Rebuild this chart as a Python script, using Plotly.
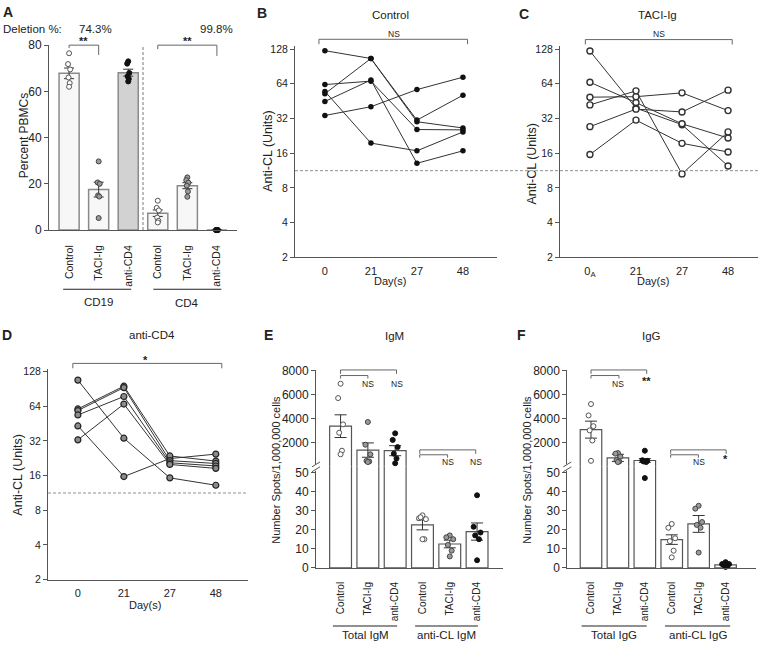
import math
import plotly.graph_objects as go

W, H = 758, 646
FONT = "Liberation Sans, Arial, Helvetica, sans-serif"
INK = "#222222"
AXC = "#555555"

# ------------------------------------------------------------------ data
# Panel A: percent PBMCs
a_cats = ["Control", "TACI-Ig", "anti-CD4", "Control", "TACI-Ig", "anti-CD4"]
a_groups = ["CD19", "CD4"]
a_means = [67.8, 17.5, 68.1, 7.3, 19.2, 0.0]
a_sem = [2.3, 3.2, 1.5, 1.4, 1.3, 0.0]
a_pts = [
    [76.5, 71.8, 69.5, 66.0, 63.6, 62.0],
    [29.7, 20.6, 20.0, 15.0, 14.5, 5.2],
    [73.0, 72.0, 68.0, 66.5, 65.4, 64.3],
    [12.7, 9.6, 8.5, 5.4, 4.0, 3.3],
    [22.8, 21.6, 20.5, 19.2, 16.7, 14.4],
    [0.0, 0.0, 0.0, 0.0, 0.0, 0.0],
]
a_deletion = ["74.3%", "99.8%"]

# Panels B-D: anti-CL units over time (one list per animal)
days = ["0", "21", "27", "48"]
c_days = ["0<sub>A</sub>", "21", "27", "48"]
b_series = [
    [124, 106, 31, 51],
    [52.5, 106, 30, 26.5],
    [63, 67.5, 25.7, 25.5],
    [45, 69, 13.1, 16.8],
    [34, 40.5, 57, 73],
    [55, 19.6, 16.8, 24.5],
]
c_series = [
    [123, 39.4, 28.3, 12.4],
    [66, 44, 28.8, 21.7],
    [49, 49.5, 53.4, 37.5],
    [42, 55.6, 10.6, 24.5],
    [27.2, 38.6, 36.5, 56.4],
    [15.6, 31, 19.5, 16.4],
]
d_series = [
    [108, 33.8, 15.3, 13.2],
    [43.2, 15.7, 22.5, 24.6],
    [60.7, 95.7, 23.7, 21.4],
    [58.8, 93, 21.6, 20.4],
    [53.8, 77.8, 20.7, 19.4],
    [32.7, 66.9, 20.0, 18.5],
]
cutoff = 11.3
log_ticks = [2, 4, 8, 16, 32, 64, 128]

# Panels E/F: ELISPOT
ef_cats = ["Control", "TACI-Ig", "anti-CD4", "Control", "TACI-Ig", "anti-CD4"]
e_groups = ["Total IgM", "anti-CL IgM"]
e_tot_mean = [3350, 1350, 1300]
e_tot_sem = [950, 600, 420]
e_tot_pts = [[6900, 5700, 3500, 2800, 1300, 1000],
             [3700, 1800, 1000, 450, 400, 350],
             [2750, 2200, 1600, 1050, 650, 250]]
e_cl_mean = [22.5, 12.5, 19.0]
e_cl_sem = [2.6, 2.0, 4.5]
e_cl_pts = [[27.5, 26.0, 25.5, 26.5, 15.0, 15.0],
            [17.0, 16.0, 15.0, 12.0, 9.0, 6.0],
            [38.0, 21.5, 18.5, 17.0, 15.0, 4.0]]

f_groups = ["Total IgG", "anti-CL IgG"]
f_tot_mean = [3060, 700, 480]
f_tot_sem = [710, 300, 160]
f_tot_pts = [[5200, 4250, 3350, 3000, 2150, 450],
             [1100, 1050, 800, 500, 400, 350],
             [1300, 500, 450, 400, 350, 47]]
f_cl_mean = [14.8, 23.0, 1.6]
f_cl_sem = [2.5, 4.4, 0.4]
f_cl_pts = [[23.0, 21.0, 15.5, 14.0, 9.0, 5.5],
            [32.5, 31.0, 24.0, 22.5, 21.0, 8.0],
            [3.0, 2.0, 2.0, 1.5, 1.0, 0.5]]

# ------------------------------------------------------------------ helpers
def px_x(p):
    return p / W


def px_y(p):
    return 1 - p / H


def dom_x(a, b):
    return [a / W, b / W]


def dom_y(top, bottom):
    return [1 - bottom / H, 1 - top / H]


styles = [
    dict(color="white", size=5, line=dict(color="#555555", width=1)),
    dict(color="#9a9a9a", size=5, line=dict(color="#444444", width=1)),
    dict(color="#111111", size=5, line=dict(color="#111111", width=1)),
]
jit = [0.0, -0.09, 0.09, -0.05, 0.05, 0.0]
DASH = "3px,2px"

fig = go.Figure()
annotations = []
shapes = []


def ann(text, x, y, size=11, bold=False, xanchor="center", yanchor="middle",
        angle=0, xref="paper", yref="paper", color=INK):
    annotations.append(dict(
        text=("<b>%s</b>" % text) if bold else text, x=x, y=y, xref=xref, yref=yref,
        xanchor=xanchor, yanchor=yanchor, textangle=angle, showarrow=False,
        font=dict(family=FONT, size=size, color=color)))


def bracket(xref, x0, x1, ypx, drop0, drop1, color="#666666"):
    shapes.append(dict(
        type="path", xref=xref, yref="paper",
        path="M %g,%g L %g,%g L %g,%g L %g,%g" % (
            x0, px_y(ypx + drop0), x0, px_y(ypx), x1, px_y(ypx), x1, px_y(ypx + drop1)),
        line=dict(color=color, width=1)))


base_axis = dict(showline=True, linecolor=AXC, linewidth=1, showgrid=False,
                 zeroline=False, tickcolor=AXC,
                 tickfont=dict(family=FONT, size=11, color=INK))

lay = {}

# ------------------------------------------------------------------ Panel A
lay["xaxis"] = dict(base_axis, domain=dom_x(49, 237), range=[-0.68, 5.68],
                    tickmode="array", tickvals=list(range(6)), ticktext=a_cats,
                    tickangle=-90, ticks="outside", ticklen=10,
                    tickcolor="rgba(0,0,0,0)", anchor="y",
                    tickfont=dict(family=FONT, size=10.5, color=INK))
lay["yaxis"] = dict(base_axis, domain=dom_y(39, 228), range=[0, 80],
                    tickvals=[0, 20, 40, 60, 80], ticks="outside", ticklen=4,
                    anchor="x", tickfont=dict(family=FONT, size=12, color=INK))

a_fill = ["#f7f7f7", "#f7f7f7", "#d2d2d2", "#f7f7f7", "#f7f7f7", "#f7f7f7"]
fig.add_trace(go.Bar(
    x=list(range(6)), y=a_means, width=0.68, xaxis="x", yaxis="y",
    marker=dict(color=a_fill, line=dict(color="#8a8a8a", width=1.5)),
    error_y=dict(type="data", array=a_sem, color="#333333", thickness=1, width=5),
    showlegend=False))
for i, vals in enumerate(a_pts):
    fig.add_trace(go.Scatter(
        x=[i + 0.4 * j for j in jit[:len(vals)]], y=vals, mode="markers",
        xaxis="x", yaxis="y", marker=styles[i % 3], cliponaxis=False,
        showlegend=False))

shapes.append(dict(type="line", xref="x", yref="y", x0=2.5, x1=2.5, y0=0, y1=80,
                   line=dict(color="#777777", width=1, dash=DASH)))
bracket("x", 0, 1, 39, 3, 10)
bracket("x", 3, 5, 39, 4, 11)
ann("**", 0.5, px_y(35), size=11, bold=True, xref="x")
ann("**", 4, px_y(35), size=11, bold=True, xref="x")
ann("Deletion %:", px_x(1), px_y(22), size=11.5, xanchor="left")
ann(a_deletion[0], 0.9, px_y(22), size=11.5, xref="x")
ann(a_deletion[1], 5.0, px_y(22), size=11.5, xref="x")
shapes.append(dict(type="line", xref="x", yref="paper", x0=-0.2, x1=2.1,
                   y0=px_y(288.5), y1=px_y(288.5), line=dict(color="#222222", width=1.2)))
shapes.append(dict(type="line", xref="x", yref="paper", x0=2.85, x1=5.15,
                   y0=px_y(288.5), y1=px_y(288.5), line=dict(color="#222222", width=1.2)))
ann(a_groups[0], 1.0, px_y(302), size=11.5, xref="x")
ann(a_groups[1], 4.0, px_y(303), size=11.5, xref="x")
ann("Percent PBMCs", px_x(24), px_y(132), size=12, angle=-90)
ann("A", px_x(1), px_y(5), size=14, bold=True, xanchor="left")

# ------------------------------------------------------------------ Panels B, C, D
def log_axis(domain_y, top_px_gap, per_doubling, anchor):
    top = math.log10(128) + (top_px_gap / per_doubling) * math.log10(2)
    return dict(base_axis, type="log", domain=domain_y,
                range=[math.log10(2), top], tickvals=log_ticks,
                ticktext=[str(v) for v in log_ticks], ticks="outside", ticklen=4,
                anchor=anchor, tickfont=dict(family=FONT, size=10.5, color=INK))


def day_axis(domain_x, rng, labels, anchor):
    return dict(base_axis, domain=domain_x, range=rng, tickmode="array",
                tickvals=[0, 1, 2, 3], ticktext=labels, ticks="outside", ticklen=3,
                tickcolor="rgba(0,0,0,0)", anchor=anchor,
                tickfont=dict(family=FONT, size=11, color=INK))


lay["xaxis2"] = day_axis(dom_x(295, 497), [-0.65, 3.74], days, "y2")
lay["yaxis2"] = log_axis(dom_y(40, 256), 3, 35.5, "x2")
lay["xaxis3"] = day_axis(dom_x(560, 758), [-0.65, 3.65], c_days, "y3")
lay["yaxis3"] = log_axis(dom_y(40, 256), 3, 35.5, "x3")
lay["xaxis4"] = day_axis(dom_x(48, 248), [-0.65, 3.70], days, "y4")
lay["yaxis4"] = log_axis(dom_y(370, 585.3), 2.7, 35.4, "x4")

line_sty = dict(color="#333333", width=1)
for s in b_series:
    fig.add_trace(go.Scatter(x=[0, 1, 2, 3], y=s, mode="lines+markers", xaxis="x2",
                             yaxis="y2", line=line_sty, cliponaxis=False,
                             marker=dict(size=5.5, color="#111111"), showlegend=False))
for s in c_series:
    fig.add_trace(go.Scatter(x=[0, 1, 2, 3], y=s, mode="lines+markers", xaxis="x3",
                             yaxis="y3", line=line_sty, cliponaxis=False,
                             marker=dict(size=6, color="white",
                                         line=dict(color="#333333", width=1.4)),
                             showlegend=False))
for s in d_series:
    fig.add_trace(go.Scatter(x=[0, 1, 2, 3], y=s, mode="lines+markers", xaxis="x4",
                             yaxis="y4", line=line_sty, cliponaxis=False,
                             marker=dict(size=6, color="#8c8c8c",
                                         line=dict(color="#222222", width=1.2)),
                             showlegend=False))

shapes.append(dict(type="line", xref="paper", yref="y2", x0=px_x(295), x1=1,
                   y0=cutoff, y1=cutoff, line=dict(color="#8f8f8f", width=1, dash=DASH)))
shapes.append(dict(type="line", xref="paper", yref="y4", x0=px_x(48), x1=px_x(248),
                   y0=cutoff, y1=cutoff, line=dict(color="#8f8f8f", width=1, dash=DASH)))

bracket("x2", -0.13, 3.1, 33, 5, 5)
ann("NS", 1.5, px_y(28), size=8.5, xref="x2")
bracket("x3", -0.1, 3.09, 33.3, 5, 5)
ann("NS", 1.5, px_y(28), size=8.5, xref="x3")
bracket("x4", -0.11, 3.13, 364.3, 5, 5)
ann("*", 1.48, px_y(361), size=11, bold=True, xref="x4")

ann("Control", px_x(390), px_y(8), size=11.5)
ann("TACI-Ig", px_x(657), px_y(8), size=11.5)
ann("anti-CD4", px_x(152), px_y(335), size=11.5)
ann("Anti-CL (Units)", px_x(268), px_y(147), size=12.5, angle=-90)
ann("Anti-CL (Units)", px_x(532), px_y(160), size=12.5, angle=-90)
ann("Anti-CL (Units)", px_x(18), px_y(478), size=12.5, angle=-90)
ann("Day(s)", px_x(390), px_y(280), size=11)
ann("Day(s)", px_x(653), px_y(280), size=11)
ann("Day(s)", px_x(145), px_y(611.5), size=11)
ann("B", px_x(255), px_y(6), size=14, bold=True, xanchor="left")
ann("C", px_x(517), px_y(7), size=14, bold=True, xanchor="left")
ann("D", px_x(0), px_y(335), size=14, bold=True, xanchor="left")


# ------------------------------------------------------------------ Panels E, F
TOP_HI = 8052
BOT_HI = 53.2
BOT_TOP_PX = 469.4


def broken_panel(xa, yb, yt, x_dom, xrng, tot_mean, tot_sem, tot_pts,
                 cl_mean, cl_sem, cl_pts):
    xkey = "xaxis" + xa[1:]
    lay[xkey] = dict(base_axis, domain=x_dom, range=xrng, tickmode="array",
                     tickvals=list(range(6)), ticktext=ef_cats, tickangle=-90,
                     ticks="outside", ticklen=9, tickcolor="rgba(0,0,0,0)",
                     anchor=yb, tickfont=dict(family=FONT, size=10, color=INK))
    lay["yaxis" + yb[1:]] = dict(base_axis, domain=dom_y(BOT_TOP_PX, 573.3),
                                 range=[0, BOT_HI], tickvals=[0, 10, 20, 30, 40, 50],
                                 ticks="outside", ticklen=4, anchor=xa,
                                 tickfont=dict(family=FONT, size=12, color=INK))
    lay["yaxis" + yt[1:]] = dict(base_axis, domain=dom_y(371, BOT_TOP_PX),
                                 range=[0, TOP_HI], tickvals=[2000, 4000, 6000, 8000],
                                 ticks="outside", ticklen=4, anchor=xa,
                                 tickfont=dict(family=FONT, size=12, color=INK))
    bar_line = dict(color="#555555", width=1.2)
    # lower segment: all six bars (totals run off the top of the segment)
    fig.add_trace(go.Bar(x=[0, 1, 2], y=tot_mean, width=0.8, xaxis=xa, yaxis=yb,
                         marker=dict(color="white", line=bar_line), showlegend=False))
    fig.add_trace(go.Bar(x=[3, 4, 5], y=cl_mean, width=0.8, xaxis=xa, yaxis=yb,
                         marker=dict(color="white", line=bar_line),
                         error_y=dict(type="data", array=cl_sem, color="#333333",
                                      thickness=1, width=6),
                         showlegend=False))
    # upper segment: total bars continue from below the break
    lo = -600
    fig.add_trace(go.Bar(x=[0, 1, 2], y=[m - lo for m in tot_mean], base=lo, width=0.8,
                         xaxis=xa, yaxis=yt, marker=dict(color="white", line=bar_line),
                         error_y=dict(type="data", array=tot_sem, color="#333333",
                                      thickness=1, width=6),
                         showlegend=False))
    for i, vals in enumerate(tot_pts):
        hi = [(i + jit[k], v) for k, v in enumerate(vals) if v > BOT_HI]
        lw = [(i + jit[k], v) for k, v in enumerate(vals) if v <= BOT_HI]
        for pts, ya in ((hi, yt), (lw, yb)):
            if pts:
                fig.add_trace(go.Scatter(x=[p[0] for p in pts], y=[p[1] for p in pts],
                                         mode="markers", xaxis=xa, yaxis=ya,
                                         marker=styles[i], cliponaxis=False,
                                         showlegend=False))
    for i, vals in enumerate(cl_pts):
        fig.add_trace(go.Scatter(x=[3 + i + 1.4 * j for j in jit[:len(vals)]], y=vals,
                                 mode="markers", xaxis=xa, yaxis=yb, marker=styles[i],
                                 cliponaxis=False, showlegend=False))


broken_panel("x5", "y5", "y6", dom_x(316, 503), [-0.9, 5.95],
             e_tot_mean, e_tot_sem, e_tot_pts, e_cl_mean, e_cl_sem, e_cl_pts)
broken_panel("x6", "y7", "y8", dom_x(567.3, 756), [-0.88, 6.13],
             f_tot_mean, f_tot_sem, f_tot_pts, f_cl_mean, f_cl_sem, f_cl_pts)

for axx in (316, 567.3):
    shapes.append(dict(type="rect", xref="paper", yref="paper", layer="above",
                       x0=px_x(axx - 4), x1=px_x(axx + 3), y0=px_y(474), y1=px_y(467.5),
                       fillcolor="white", line=dict(width=0)))
    for dy in (0, 5):
        shapes.append(dict(type="line", xref="paper", yref="paper", layer="above",
                           x0=px_x(axx - 4), x1=px_x(axx + 4),
                           y0=px_y(470 + dy), y1=px_y(465 + dy),
                           line=dict(color="#555555", width=1)))

# E significance
bracket("x5", 0, 2.05, 371, 4, 4)
bracket("x5", 0, 1.0, 376.7, 3, 3)
ann("NS", 1.0, px_y(385), size=8.5, xref="x5")
ann("NS", 2.05, px_y(385), size=8.5, xref="x5")
bracket("x5", 2.9, 4.95, 452.7, 4, 4)
bracket("x5", 2.9, 3.92, 457.7, 3, 3)
ann("NS", 3.92, px_y(465), size=8.5, xref="x5")
ann("NS", 4.95, px_y(465), size=8.5, xref="x5")
# F significance
bracket("x6", 0, 2.07, 371, 4, 4)
bracket("x6", 0, 1.04, 376.7, 3, 3)
ann("NS", 1.0, px_y(385), size=8.5, xref="x6")
ann("**", 2.05, px_y(382), size=11, bold=True, xref="x6")
bracket("x6", 2.96, 5.02, 452.7, 4, 4)
bracket("x6", 2.96, 3.99, 457.7, 3, 3)
ann("NS", 4.0, px_y(465), size=8.5, xref="x6")
ann("*", 5.0, px_y(462), size=11, bold=True, xref="x6")

for xa, grp, ends in (("x5", e_groups, [(-0.28, 2.07), (2.73, 5.03)]),
                      ("x6", f_groups, [(-0.35, 2.07), (2.75, 5.17)])):
    for (x0, x1), g in zip(ends, grp):
        shapes.append(dict(type="line", xref=xa, yref="paper", x0=x0, x1=x1,
                           y0=px_y(632.7), y1=px_y(632.7),
                           line=dict(color="#222222", width=1.2)))
        ann(g, (x0 + x1) / 2, px_y(642), size=11.5, xref=xa)

ann("IgM", px_x(394), px_y(336), size=11.5)
ann("IgG", px_x(651), px_y(336), size=11.5)
ann("Number Spots/1,000,000 cells", px_x(276), px_y(473), size=11, angle=-90)
ann("Number Spots/1,000,000 cells", px_x(527), px_y(473), size=11, angle=-90)
ann("E", px_x(262), px_y(335), size=14, bold=True, xanchor="left")
ann("F", px_x(515), px_y(335), size=14, bold=True, xanchor="left")

fig.update_layout(
    width=W, height=H, margin=dict(l=0, r=0, t=0, b=0),
    paper_bgcolor="white", plot_bgcolor="rgba(0,0,0,0)",
    barmode="overlay", showlegend=False, hovermode=False,
    font=dict(family=FONT, color=INK),
    annotations=annotations, shapes=shapes, **lay)

fig.write_html(
    "out.html",
    config={"displayModeBar": False, "staticPlot": True},
    post_script="document.body.style.margin='0';document.body.style.padding='0';"
                "document.body.style.overflow='hidden';")
